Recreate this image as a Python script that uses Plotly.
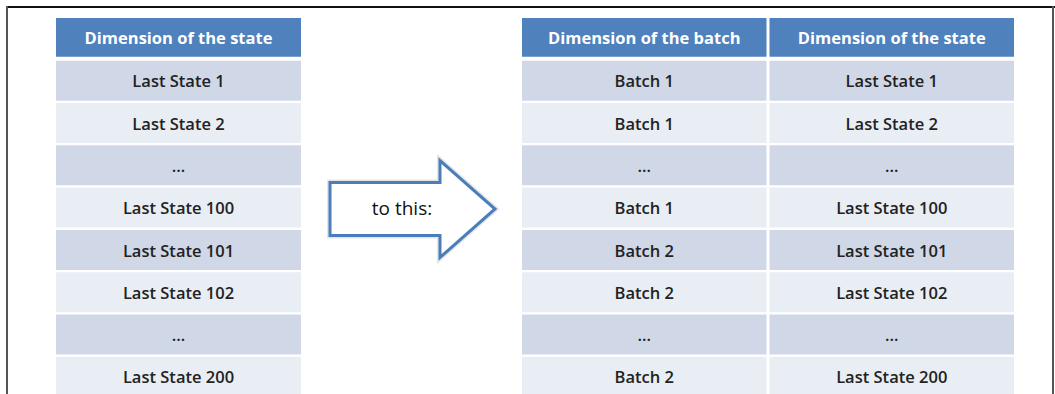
import plotly.graph_objects as go

# ---------------- data ----------------
left_headers = ["Dimension of the state"]
left_state_cells = ["Last State 1", "Last State 2", "…", "Last State 100",
                    "Last State 101", "Last State 102", "…", "Last State 200"]

right_headers = ["Dimension of the batch", "Dimension of the state"]
batch_cells = ["Batch 1", "Batch 1", "…", "Batch 1",
               "Batch 2", "Batch 2", "…", "Batch 2"]
state_cells = ["Last State 1", "Last State 2", "…", "Last State 100",
               "Last State 101", "Last State 102", "…", "Last State 200"]

arrow_label = "to this:"

# ---------------- layout / styling ----------------
W, H = 1055, 394
HEADER_FILL = "#4F81BD"
ROW_FILLS = ["#D0D8E8", "#E9EDF4"]
TEXT_COLOR = "#222222"
FONT = "Open Sans"

header_top, header_bot = 18, 56.7
row_top0, row_pitch, row_h = 60.7, 42.3, 40.0
text_dy = 2.5

# column extents (x0, x1) in pixel-like axis units
tables = [
    {"cols": [(56, 301)], "headers": left_headers, "cells": [left_state_cells]},
    {"cols": [(522, 766.5), (769.5, 1014)], "headers": right_headers,
     "cells": [batch_cells, state_cells]},
]

fig = go.Figure()
shapes = []

for tbl in tables:
    for (x0, x1), head, col_cells in zip(tbl["cols"], tbl["headers"], tbl["cells"]):
        xc = (x0 + x1) / 2
        shapes.append(dict(type="rect", xref="x", yref="y", x0=x0, x1=x1,
                           y0=header_top, y1=header_bot, fillcolor=HEADER_FILL,
                           line=dict(width=0), layer="below"))
        fig.add_trace(go.Scatter(
            x=[xc], y=[(header_top + header_bot) / 2 + 3], mode="text", text=[head],
            textposition="middle center",
            textfont=dict(family=FONT, size=16.5, color="white", weight=700),
            hoverinfo="skip", showlegend=False))
        ys, texts = [], []
        for k, label in enumerate(col_cells):
            y0 = row_top0 + k * row_pitch
            y1 = y0 + row_h
            shapes.append(dict(type="rect", xref="x", yref="y", x0=x0, x1=x1,
                               y0=y0, y1=y1, fillcolor=ROW_FILLS[k % 2],
                               line=dict(width=0), layer="below"))
            ys.append((y0 + y1) / 2 + text_dy)
            texts.append(label)
        fig.add_trace(go.Scatter(
            x=[xc] * len(ys), y=ys, mode="text", text=texts,
            textposition="middle center",
            textfont=dict(family=FONT, size=16.5, color=TEXT_COLOR, weight=600),
            hoverinfo="skip", showlegend=False))

# block arrow outline
ax0, ax_head, ax_tip = 330, 440, 495
ay_c, body_half, head_half = 209, 26.5, 48.5
arrow_path = (f"M {ax0},{ay_c - body_half} L {ax_head},{ay_c - body_half} "
              f"L {ax_head},{ay_c - head_half} L {ax_tip},{ay_c} "
              f"L {ax_head},{ay_c + head_half} L {ax_head},{ay_c + body_half} "
              f"L {ax0},{ay_c + body_half} Z")
shapes.append(dict(type="path", xref="x", yref="y", path=arrow_path, layer="below",
                   line=dict(color="rgba(0,0,0,0.10)", width=6),
                   fillcolor="rgba(0,0,0,0)"))
shapes.append(dict(type="path", xref="x", yref="y", path=arrow_path, layer="below",
                   line=dict(color="#4A7EBB", width=3), fillcolor="white"))
fig.add_trace(go.Scatter(
    x=[402], y=[ay_c + 1], mode="text", text=[arrow_label],
    textposition="middle center",
    textfont=dict(family=FONT, size=19, color="#111111"),
    hoverinfo="skip", showlegend=False))

# frame lines
shapes.append(dict(type="line", xref="x", yref="y", x0=7, x1=W, y0=7, y1=7,
                   line=dict(color="#111111", width=2)))
shapes.append(dict(type="line", xref="x", yref="y", x0=7, x1=7, y0=6, y1=H,
                   line=dict(color="#555555", width=2)))
shapes.append(dict(type="line", xref="x", yref="y", x0=1053, x1=1053, y0=6, y1=H,
                   line=dict(color="#555555", width=2)))

fig.update_layout(
    width=W, height=H, margin=dict(l=0, r=0, t=0, b=0),
    paper_bgcolor="white", plot_bgcolor="white",
    shapes=shapes,
    xaxis=dict(range=[0, W], visible=False, fixedrange=True),
    yaxis=dict(range=[H, 0], visible=False, fixedrange=True),
)

fig.write_html("out.html", config={"displayModeBar": False},
               post_script="document.body.style.margin='0';document.body.style.overflow='hidden';")
